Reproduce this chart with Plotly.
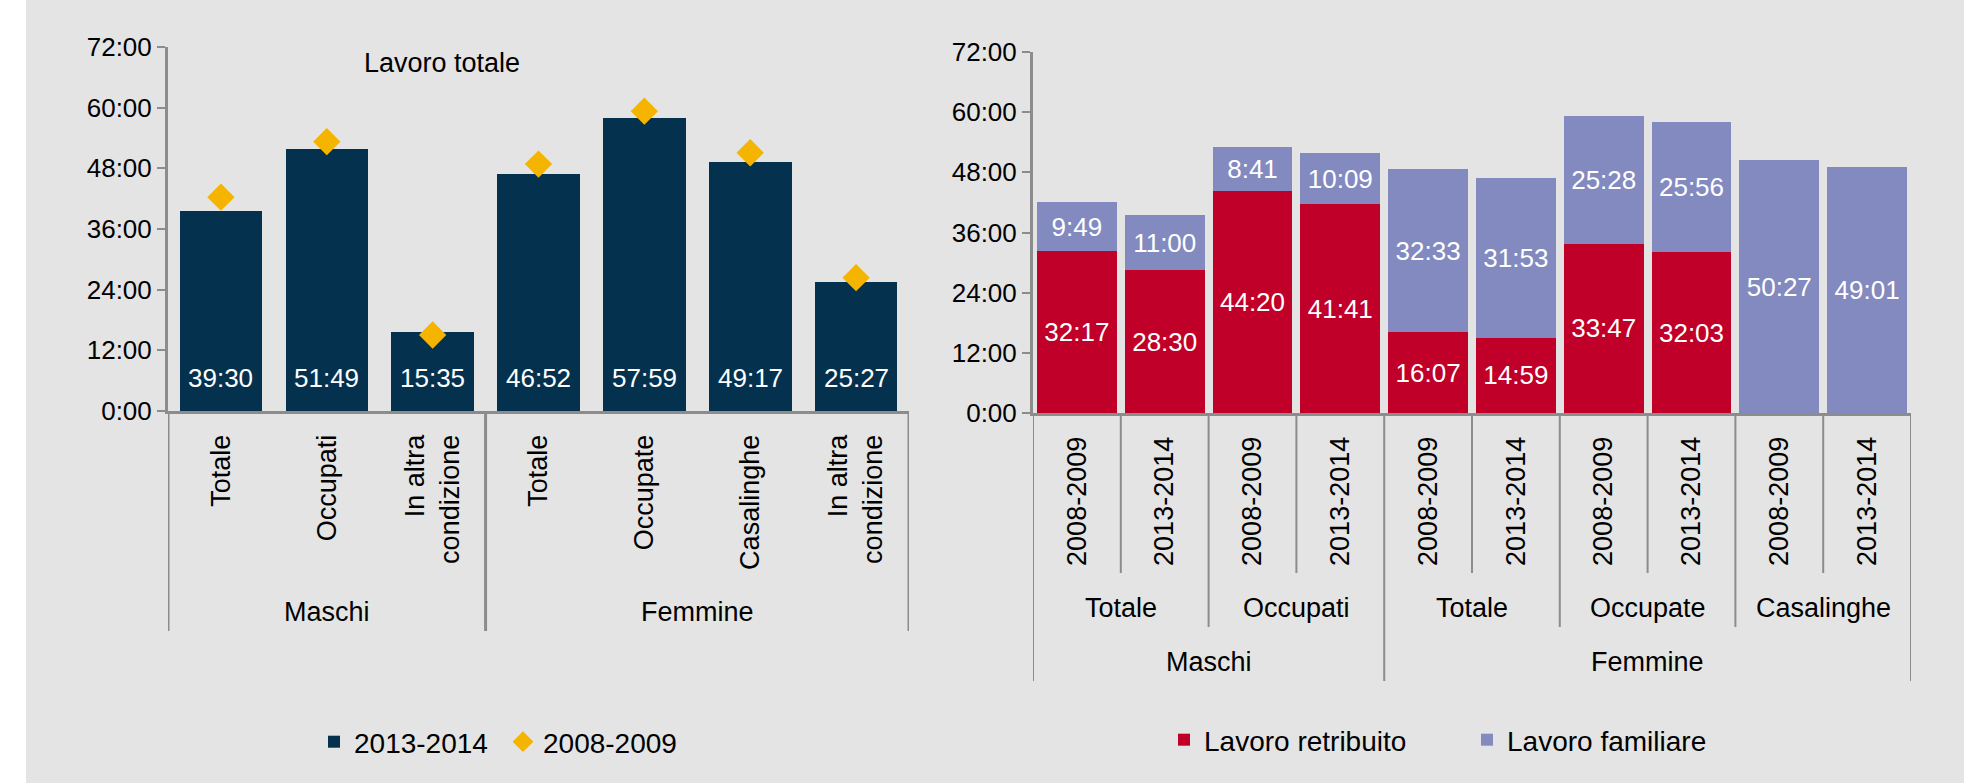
import plotly.graph_objects as go

# ---------------- data ----------------
left_groups = ["Maschi", "Maschi", "Maschi", "Femmine", "Femmine", "Femmine", "Femmine"]
left_categories = ["Totale", "Occupati", "In altra<br>condizione", "Totale", "Occupate",
                   "Casalinghe", "In altra<br>condizione"]
left_2013_2014 = ["39:30", "51:49", "15:35", "46:52", "57:59", "49:17", "25:27"]
left_2008_2009 = ["42:18", "53:16", "15:02", "48:51", "59:18", "51:05", "26:22"]

right_groups = ["Maschi"] * 4 + ["Femmine"] * 6
right_subgroups = ["Totale", "Totale", "Occupati", "Occupati", "Totale", "Totale",
                   "Occupate", "Occupate", "Casalinghe", "Casalinghe"]
right_periods = ["2008-2009", "2013-2014"] * 5
lavoro_retribuito = ["32:17", "28:30", "44:20", "41:41", "16:07", "14:59", "33:47", "32:03", "0:00", "0:00"]
lavoro_familiare = ["9:49", "11:00", "8:41", "10:09", "32:33", "31:53", "25:28", "25:56", "50:27", "49:01"]

y_tick_labels = ["0:00", "12:00", "24:00", "36:00", "48:00", "60:00", "72:00"]


def hours(s):
    h, m = s.split(":")
    return int(h) + int(m) / 60.0


# ---------------- layout helpers ----------------
W, H = 1977, 783
FONT = "Liberation Sans, Arial, sans-serif"
AXIS_GREY = "#8C8C8C"
NAVY = "#04324E"
GOLD = "#F5B400"
RED = "#C00028"
LAV = "#838ABF"


def px_x(p):
    return p / W


def px_y(p):
    return 1 - p / H


y_vals = [hours(t) for t in y_tick_labels]

fig = go.Figure()

nl = len(left_categories)
xl = list(range(nl))
fig.add_trace(go.Bar(
    x=xl, y=[hours(v) for v in left_2013_2014], name="2013-2014",
    marker=dict(color=NAVY, line=dict(width=0)), width=0.78,
    xaxis="x", yaxis="y", legend="legend", hoverinfo="skip"))
fig.add_trace(go.Scatter(
    x=xl, y=[hours(v) for v in left_2008_2009], name="2008-2009", mode="markers",
    marker=dict(symbol="diamond", size=21, color=GOLD, line=dict(width=0)),
    xaxis="x", yaxis="y", legend="legend", hoverinfo="skip"))

nr = len(right_periods)
xr = list(range(nr))
fig.add_trace(go.Bar(
    x=xr, y=[hours(v) for v in lavoro_retribuito], name="Lavoro retribuito",
    text=[v if hours(v) > 0 else "" for v in lavoro_retribuito],
    textposition="inside", insidetextanchor="middle", textangle=0,
    textfont=dict(color="white", size=26, family=FONT),
    marker=dict(color=RED, line=dict(width=0)), width=0.91,
    xaxis="x2", yaxis="y2", legend="legend2", hoverinfo="skip"))
fig.add_trace(go.Bar(
    x=xr, y=[hours(v) for v in lavoro_familiare], name="Lavoro familiare",
    text=[v if hours(v) > 0 else "" for v in lavoro_familiare],
    textposition="inside", insidetextanchor="middle", textangle=0,
    textfont=dict(color="white", size=26, family=FONT),
    marker=dict(color=LAV, line=dict(width=0)), width=0.91,
    xaxis="x2", yaxis="y2", legend="legend2", hoverinfo="skip"))

annotations = []
shapes = []

# white strips at the page edges
shapes.append(dict(type="rect", xref="paper", yref="paper", x0=0, x1=px_x(26), y0=0, y1=1,
                   fillcolor="white", line=dict(width=0), layer="below"))
shapes.append(dict(type="rect", xref="paper", yref="paper", x0=px_x(1964), x1=1, y0=0, y1=1,
                   fillcolor="white", line=dict(width=0), layer="below"))

# left bar value labels
for i, v in enumerate(left_2013_2014):
    annotations.append(dict(x=i, y=0, xref="x", yref="y", yshift=33, text=v, showarrow=False,
                            xanchor="center", yanchor="middle",
                            font=dict(color="white", size=26, family=FONT)))

annotations.append(dict(x=px_x(442), y=px_y(63), xref="paper", yref="paper", text="Lavoro totale",
                        showarrow=False, xanchor="center", yanchor="middle",
                        font=dict(size=27, color="black", family=FONT)))


def spans(labels):
    out = []
    start = 0
    for i in range(1, len(labels) + 1):
        if i == len(labels) or labels[i] != labels[start]:
            out.append((labels[start], start, i - 1))
            start = i
    return out


# left hierarchical axis
for name, a, b in spans(left_groups):
    annotations.append(dict(x=(a + b) / 2, y=px_y(612), xref="x", yref="paper", text=name,
                            showarrow=False, xanchor="center", yanchor="middle",
                            font=dict(size=27, color="black", family=FONT)))
left_bounds = sorted({a - 0.5 for _, a, _ in spans(left_groups)} | {nl - 0.5})
for xb in left_bounds:
    shapes.append(dict(type="line", xref="x", yref="paper", x0=xb, x1=xb,
                       y0=px_y(411), y1=px_y(631), line=dict(color=AXIS_GREY, width=3)))

# right hierarchical axis
sub_keys = [g + "|" + s for g, s in zip(right_groups, right_subgroups)]
for key, a, b in spans(sub_keys):
    annotations.append(dict(x=(a + b) / 2, y=px_y(608), xref="x2", yref="paper", text=key.split("|")[1],
                            showarrow=False, xanchor="center", yanchor="middle",
                            font=dict(size=27, color="black", family=FONT)))
for name, a, b in spans(right_groups):
    annotations.append(dict(x=(a + b) / 2, y=px_y(662), xref="x2", yref="paper", text=name,
                            showarrow=False, xanchor="center", yanchor="middle",
                            font=dict(size=27, color="black", family=FONT)))
group_b = {a for _, a, _ in spans(right_groups)} | {nr}
sub_b = {a for _, a, _ in spans(sub_keys)} | {nr}
for k in range(nr + 1):
    if k in group_b:
        y_end = 681
    elif k in sub_b:
        y_end = 627
    else:
        y_end = 573
    shapes.append(dict(type="line", xref="x2", yref="paper", x0=k - 0.5, x1=k - 0.5,
                       y0=px_y(413), y1=px_y(y_end), line=dict(color=AXIS_GREY, width=2)))

yaxis_common = dict(range=[0, 72], tickvals=y_vals, ticktext=y_tick_labels, showgrid=False,
                    zeroline=False, showline=True, linecolor=AXIS_GREY, linewidth=3,
                    ticks="outside", ticklen=8, tickwidth=2, tickcolor=AXIS_GREY,
                    automargin=False,
                    tickfont=dict(size=26, color="black", family=FONT), fixedrange=True)

fig.update_layout(
    width=W, height=H,
    margin=dict(l=0, r=0, t=0, b=0, pad=0, autoexpand=False),
    paper_bgcolor="#E4E4E4", plot_bgcolor="rgba(0,0,0,0)",
    barmode="stack",
    font=dict(family=FONT, color="black"),
    xaxis=dict(domain=[px_x(168), px_x(909)], range=[-0.5, nl - 0.5], tickvals=xl,
               ticktext=left_categories, tickangle=-90, showgrid=False, zeroline=False,
               showline=True, linecolor=AXIS_GREY, linewidth=3, ticks="",
               ticklabelstandoff=10, automargin=False,
               tickfont=dict(size=27, color="black", family=FONT), fixedrange=True),
    yaxis=dict(domain=[px_y(411), px_y(47)], anchor="x", **yaxis_common),
    xaxis2=dict(domain=[px_x(1033), px_x(1911)], range=[-0.5, nr - 0.5], tickvals=xr,
                ticktext=right_periods, tickangle=-90, showgrid=False, zeroline=False,
                showline=True, linecolor=AXIS_GREY, linewidth=3, ticks="", anchor="y2",
                ticklabelstandoff=10, automargin=False,
                tickfont=dict(size=27, color="black", family=FONT), fixedrange=True),
    yaxis2=dict(domain=[px_y(413), px_y(52)], anchor="x2", **yaxis_common),
    legend=dict(orientation="h", x=px_x(314), y=px_y(742), xanchor="left", yanchor="middle",
                traceorder="normal", entrywidth=144, entrywidthmode="pixels",
                bgcolor="rgba(0,0,0,0)", font=dict(size=28, color="black", family=FONT),
                itemclick=False, itemdoubleclick=False),
    legend2=dict(orientation="h", x=px_x(1164), y=px_y(740), xanchor="left", yanchor="middle",
                 traceorder="normal", entrywidth=258, entrywidthmode="pixels",
                 bgcolor="rgba(0,0,0,0)", font=dict(size=28, color="black", family=FONT),
                 itemclick=False, itemdoubleclick=False),
    annotations=annotations,
    shapes=shapes,
    showlegend=True,
)

fig.write_html("out.html", config={"displayModeBar": False},
               post_script="document.body.style.margin='0';document.body.style.overflow='hidden';")
